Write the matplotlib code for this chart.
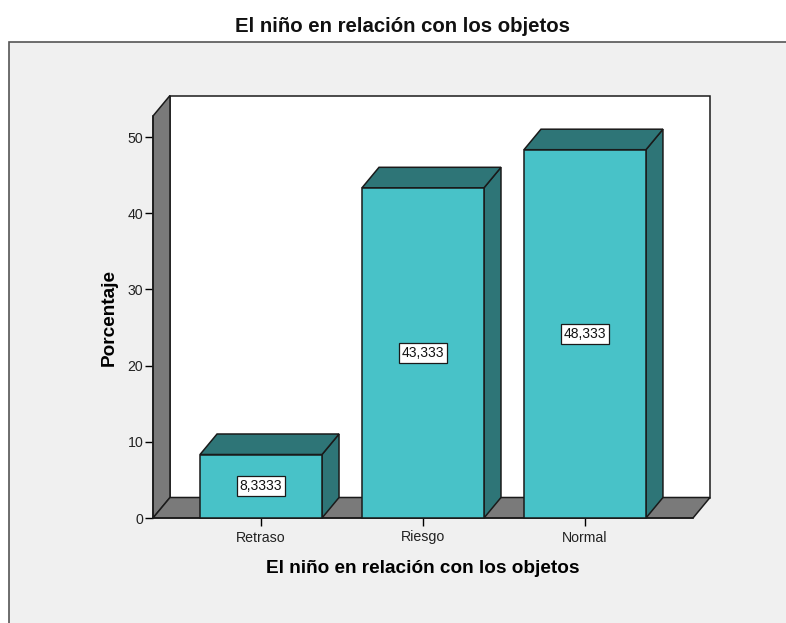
import matplotlib
matplotlib.use('Agg')
import matplotlib.pyplot as plt
from matplotlib.patches import Polygon, Rectangle

categories = ['Retraso', 'Riesgo', 'Normal']
values = [8.3333, 43.333, 48.333]
value_labels = ['8,3333', '43,333', '48,333']
y_ticks = [0, 10, 20, 30, 40, 50]

W, H = 786, 623
FACE = '#48c2c8'
DARK = '#2e7577'
WALL = '#7a7a7a'
EDGE = '#1a1a1a'
BG = '#f0f0f0'

plt.rcParams['font.family'] = ['Liberation Sans', 'DejaVu Sans']

fig = plt.figure(figsize=(W / 100, H / 100), dpi=100, facecolor='white')

# grey panel behind the chart, only left and top edges show
fig.patches.append(Rectangle((9 / W, -0.1), 1.1, 1.1 - 42 / H, transform=fig.transFigure,
                             facecolor=BG, edgecolor='#555555', linewidth=1.2, zorder=-1))

# front plane of the 3D box
ax = fig.add_axes([153 / W, 1 - 518 / H, 540 / W, 402 / H])
ax.set_xlim(-0.667, 2.667)
ax.set_ylim(0, 402 / 7.62)
ax.patch.set_visible(False)
for s in ['top', 'right', 'bottom']:
    ax.spines[s].set_visible(False)
ax.spines['left'].set_linewidth(1.1)
ax.spines['left'].set_color(EDGE)

xmin, xmax = ax.get_xlim()
ymin, ymax = ax.get_ylim()
dx = 17 / (540 / (xmax - xmin))
dy = 20.5 / 7.62


def poly(points, color, z):
    ax.add_patch(Polygon(points, closed=True, facecolor=color, edgecolor=EDGE,
                         linewidth=1.1, clip_on=False, zorder=z))


# walls
poly([(xmin + dx, ymin + dy), (xmax + dx, ymin + dy), (xmax + dx, ymax + dy), (xmin + dx, ymax + dy)], 'white', 1)
poly([(xmin, ymin), (xmin + dx, ymin + dy), (xmin + dx, ymax + dy), (xmin, ymax)], WALL, 2)
poly([(xmin, ymin), (xmax, ymin), (xmax + dx, ymin + dy), (xmin + dx, ymin + dy)], WALL, 2)

# bars
bw = 122 / 162
for i, v in enumerate(values):
    l, r = i - bw / 2, i + bw / 2
    poly([(r, 0), (r + dx, dy), (r + dx, v + dy), (r, v)], DARK, 3 + i)
    poly([(l, v), (r, v), (r + dx, v + dy), (l + dx, v + dy)], DARK, 3 + i)
    poly([(l, 0), (r, 0), (r, v), (l, v)], FACE, 3 + i)
    ax.text(i, v / 2, value_labels[i], ha='center', va='center', fontsize=10, color='#111111',
            zorder=10, bbox=dict(boxstyle='square,pad=0.22', facecolor='white', edgecolor=EDGE, linewidth=0.9))

ax.set_xticks(range(len(categories)))
ax.set_xticklabels(categories, fontsize=10.2, color='#222222')
ax.set_yticks(y_ticks)
ax.tick_params(axis='y', labelsize=10.2, length=6, width=1, pad=1, labelcolor='#222222')
ax.tick_params(axis='x', length=6, width=1, pad=3)
ax.plot([xmin, xmax], [0, 0], color=EDGE, linewidth=1.1, clip_on=False, zorder=2.5)

ax.set_xlabel('El niño en relación con los objetos', fontsize=13.7, fontweight='bold', labelpad=11)
ax.set_ylabel('Porcentaje', fontsize=13.7, fontweight='bold', labelpad=7)
fig.text(402.5 / W, 1 - 27 / H, 'El niño en relación con los objetos', ha='center', va='center',
         fontsize=14.7, fontweight='bold', color='#111111')

fig.savefig('out.png', dpi=100, facecolor='white')
